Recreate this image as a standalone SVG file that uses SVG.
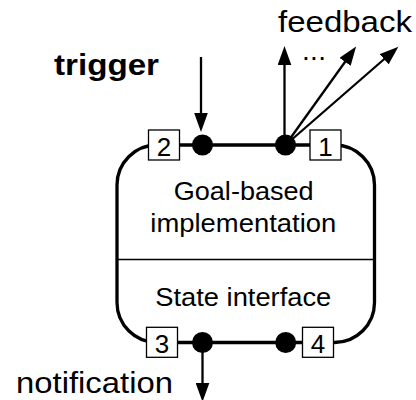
<svg xmlns="http://www.w3.org/2000/svg" width="416" height="400" viewBox="0 0 416 400">
<style>
text{font-family:"Liberation Sans",Arial,Helvetica,sans-serif;fill:#000}
.lbl{font-size:30px}
.inner{font-size:25px;text-anchor:middle}
.num{font-size:26px;text-anchor:middle}
.port{fill:#fff;stroke:#000;stroke-width:1.3}
.dot{fill:#000}
.arr{stroke:#000;stroke-width:2.3;fill:none;marker-end:url(#ah)}
</style>
<defs>
<marker id="ah" markerUnits="userSpaceOnUse" markerWidth="20" markerHeight="14" refX="1" refY="6.5" orient="auto" viewBox="0 0 19 13">
<path d="M0,0 L18,6.5 L0,13 z" fill="#000"/>
</marker>
</defs>
<g id="component">
<rect x="117" y="145" width="257.5" height="197.5" rx="40" ry="40" fill="#fff" stroke="#000" stroke-width="3.3"/>
<line x1="117" y1="259.5" x2="374.5" y2="259.5" stroke="#000" stroke-width="1.3"/>
<text class="inner" x="243.7" y="200" textLength="140" lengthAdjust="spacingAndGlyphs">Goal-based</text>
<text class="inner" x="243.3" y="231.7" textLength="186" lengthAdjust="spacingAndGlyphs">implementation</text>
<text class="inner" x="243.3" y="306" textLength="176" lengthAdjust="spacingAndGlyphs">State interface</text>
</g>
<g id="connectors">
<line class="arr" x1="201" y1="57" x2="201" y2="114"/>
<line class="arr" x1="284.5" y1="145" x2="284.5" y2="64"/>
<line class="arr" x1="285.5" y1="145" x2="345.7" y2="61"/>
<line class="arr" x1="285.5" y1="145" x2="384.9" y2="58.5"/>
<line class="arr" x1="202.5" y1="342.5" x2="202.5" y2="384"/>
</g>
<g id="port2"><rect class="port" x="148.5" y="130" width="31" height="30"/><text class="num" x="164" y="155.5">2</text></g>
<g id="port1"><rect class="port" x="310" y="130" width="31" height="30"/><text class="num" x="325.5" y="155.5">1</text></g>
<g id="port3"><rect class="port" x="146.5" y="327.3" width="31" height="30"/><text class="num" x="162" y="352.7">3</text></g>
<g id="port4"><rect class="port" x="302.5" y="327.3" width="31" height="30"/><text class="num" x="318" y="352.5">4</text></g>
<g id="dot-trigger"><circle class="dot" cx="202.5" cy="145" r="10.5"/></g>
<g id="dot-feedback"><circle class="dot" cx="285.5" cy="145" r="10.5"/></g>
<g id="dot-notification"><circle class="dot" cx="202.5" cy="342.5" r="10.5"/></g>
<g id="dot-state"><circle class="dot" cx="285.7" cy="342.5" r="10.5"/></g>
<g id="labels">
<text class="lbl" x="54" y="75" font-weight="bold" textLength="105" lengthAdjust="spacingAndGlyphs">trigger</text>
<text class="lbl" x="278" y="31.7" textLength="134" lengthAdjust="spacingAndGlyphs">feedback</text>
<text class="lbl" x="314" y="60" text-anchor="middle" font-size="28" textLength="24" lengthAdjust="spacing" style="font-size:28px">...</text>
<text class="lbl" x="16" y="393" textLength="157" lengthAdjust="spacingAndGlyphs">notification</text>
</g>
</svg>
